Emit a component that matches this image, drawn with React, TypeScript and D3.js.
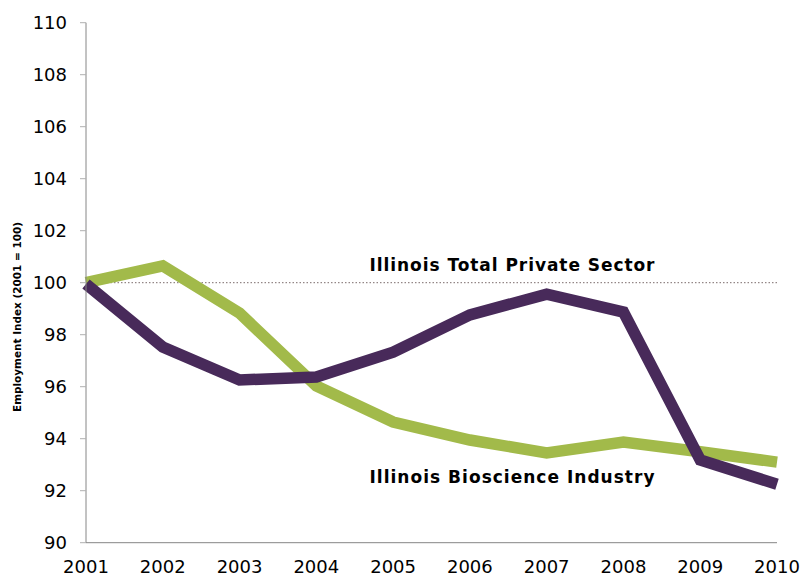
import React from "react";
import * as d3 from "d3";

const years = [2001, 2002, 2003, 2004, 2005, 2006, 2007, 2008, 2009, 2010];
const totalPrivate = [100.0, 100.65, 98.83, 96.03, 94.64, 93.95, 93.45, 93.87, 93.5, 93.1];
const bioscience = [99.95, 97.53, 96.26, 96.37, 97.33, 98.76, 99.56, 98.87, 93.18, 92.25];
const yTicks = [90, 92, 94, 96, 98, 100, 102, 104, 106, 108, 110];
const refValue = 100;

const W = 801;
const H = 577;
const left = 86;
const right = 777;
const top = 22.7;
const bottom = 542.7;
const font = "Verdana, 'DejaVu Sans', sans-serif";

export default function App() {
  const x = d3.scaleLinear().domain([2001, 2010]).range([left, right]);
  const y = d3.scaleLinear().domain([90, 110]).range([bottom, top]);
  const line = d3
    .line<number>()
    .x((_, i) => x(years[i]))
    .y((d) => y(d));

  return (
    <svg
      width={W}
      height={H}
      style={{ position: "absolute", left: 0, top: 0, background: "#fff" }}
    >
      <line
        x1={left}
        x2={right}
        y1={y(refValue)}
        y2={y(refValue)}
        stroke="#7a6a6a"
        strokeWidth={1}
        strokeDasharray="1.5 2"
      />
      <path d={line(totalPrivate) || ""} fill="none" stroke="#a2ba4a" strokeWidth={11.5} />
      <path d={line(bioscience) || ""} fill="none" stroke="#482a5a" strokeWidth={11.5} />
      <line x1={left} x2={left} y1={top} y2={bottom} stroke="#868686" strokeWidth={1} />
      <line x1={left} x2={right} y1={bottom} y2={bottom} stroke="#868686" strokeWidth={1} />
      {yTicks.map((t) => (
        <g key={t}>
          <line x1={left - 6} x2={left} y1={y(t)} y2={y(t)} stroke="#b0b0b0" strokeWidth={1} />
          <text
            x={67}
            y={y(t)}
            dy="0.35em"
            textAnchor="end"
            fontFamily={font}
            fontSize={18}
            fill="#000"
          >
            {t}
          </text>
        </g>
      ))}
      {years.map((yr) => (
        <text
          key={yr}
          x={x(yr)}
          y={573}
          textAnchor="middle"
          fontFamily={font}
          fontSize={18}
          fill="#000"
        >
          {yr}
        </text>
      ))}
      <text
        transform={`translate(21,317) rotate(-90)`}
        textAnchor="middle"
        fontFamily={font}
        fontSize={11}
        fontWeight="bold"
        fill="#000"
        textLength={190}
        lengthAdjust="spacingAndGlyphs"
      >
        Employment Index (2001 = 100)
      </text>
      <text
        x={512}
        y={271}
        textAnchor="middle"
        fontFamily={font}
        fontSize={17}
        fontWeight="bold"
        fill="#000"
        textLength={285}
        lengthAdjust="spacing"
      >
        Illinois Total Private Sector
      </text>
      <text
        x={512}
        y={483}
        textAnchor="middle"
        fontFamily={font}
        fontSize={17}
        fontWeight="bold"
        fill="#000"
        textLength={285}
        lengthAdjust="spacing"
      >
        Illinois Bioscience Industry
      </text>
    </svg>
  );
}
